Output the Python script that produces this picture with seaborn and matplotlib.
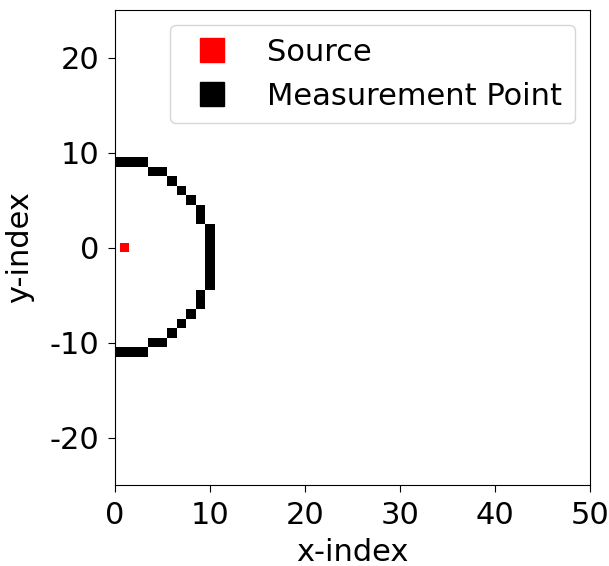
import matplotlib
matplotlib.use('Agg')
import matplotlib.pyplot as plt
from matplotlib.lines import Line2D
import seaborn as sns
import pandas as pd

# grid cells (x-index, y-index)
source_x = [1]
source_y = [0]
meas_x = [0, 1, 2, 3, 4, 5, 6, 7, 8, 9, 9, 10, 10, 10, 10, 10, 10, 10, 9, 9, 8, 7, 6, 4, 5, 0, 1, 2, 3]
meas_y = [9, 9, 9, 9, 8, 8, 7, 6, 5, 4, 3, 2, 1, 0, -1, -2, -3, -4, -5, -6, -7, -8, -9, -10, -10, -11, -11, -11, -11]
labels = ['Source', 'Measurement Point']
colors = ['red', 'black']
x_ticks = [0, 10, 20, 30, 40, 50]
y_ticks = [-20, -10, 0, 10, 20]

if __name__ == '__main__':
    plt.rcParams.update({'font.size': 22, 'axes.unicode_minus': False})
    plt.rcParams.update({'xtick.major.size': 5, 'ytick.major.size': 5})
    plt.rcParams.update({'xtick.major.pad': 6.5, 'ytick.major.pad': 6.5})

    df = pd.concat([
        pd.DataFrame({'x': source_x, 'y': source_y, 'kind': labels[0]}),
        pd.DataFrame({'x': meas_x, 'y': meas_y, 'kind': labels[1]}),
    ])

    fig = plt.figure(figsize=(6.09, 5.66), dpi=100)
    ax = fig.add_axes([0.1888, 0.1431, 0.78, 0.8392])

    # one grid cell ~ 9.5 px wide -> square marker side in points
    side = 9.5 * 72 / 100
    sns.scatterplot(data=df, x='x', y='y', hue='kind', palette=dict(zip(labels, colors)),
                    marker='s', s=side ** 2, linewidth=0, legend=False, ax=ax)

    ax.set_xlim(0, 50)
    ax.set_ylim(-25, 25)
    ax.set_xticks(x_ticks)
    ax.set_yticks(y_ticks)
    ax.set_xlabel('x-index', labelpad=5.5)
    ax.set_ylabel('y-index', labelpad=11)

    handles = [Line2D([], [], marker='s', linestyle='', color=c, markersize=17) for c in colors]
    ax.legend(handles, labels, loc='upper right')

    plt.savefig('out.png', dpi=100)
    plt.close()
